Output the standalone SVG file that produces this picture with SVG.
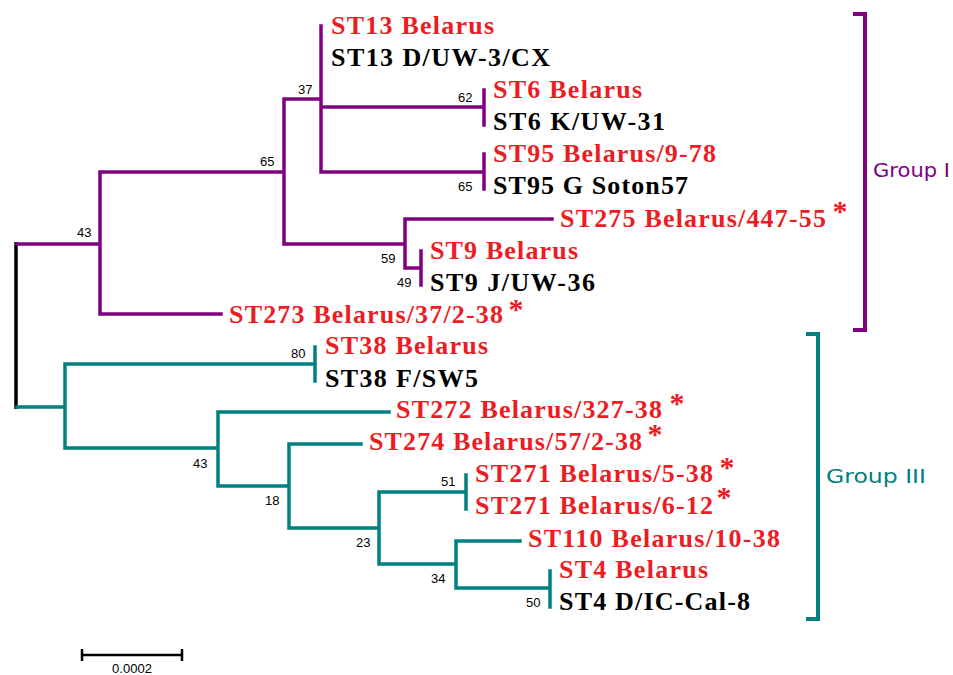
<svg xmlns="http://www.w3.org/2000/svg" width="953" height="675" viewBox="0 0 953 675">
<style>
.p{fill:none;stroke:#800080;stroke-width:3.5;stroke-linecap:square}
.t{fill:none;stroke:#008080;stroke-width:3.5;stroke-linecap:square}
.k{fill:none;stroke:#000;stroke-width:3.5}
.r{fill:#ED1C24}
.b{fill:#000}
</style>
<rect width="953" height="675" fill="#fff"/>
<g id="connectors">
<path class="k" d="M16 242V409"/>
<path class="p" d="M17 244H100M100 172V314M100 172H284M100 314H221M284 99V244M284 99H321M284 244H405M321 26V172M321 107H484M321 172H484M484 90V125M484 154V189M405 219V268M405 219H552M405 268H421M421 251V285"/>
<path class="t" d="M17 407H65M65 364V448M65 364H315M315 347V381M65 448H218M218 412V486M218 412H389M218 486H289M289 444V528M289 444H361M289 528H379M379 492V564M379 492H466M466 475V509M379 564H456M456 541V588M456 541H520M456 588H550M550 571V607"/>
</g>
<g id="bootstrap" font-family="Liberation Sans, Arial, sans-serif" font-size="13" fill="#000">
<text x="77" y="237">43</text>
<text x="260" y="166">65</text>
<text x="298" y="94">37</text>
<text x="458" y="102">62</text>
<text x="458" y="191">65</text>
<text x="381" y="263">59</text>
<text x="397" y="287">49</text>
<text x="291" y="358">80</text>
<text x="193" y="468">43</text>
<text x="265" y="505">18</text>
<text x="441" y="486">51</text>
<text x="356" y="547">23</text>
<text x="431" y="583">34</text>
<text x="526" y="607">50</text>
</g>
<g id="n-st13-belarus"><text class="r" font-family="Liberation Serif" font-weight="bold" font-size="26" x="331" y="34" textLength="163" lengthAdjust="spacing">ST13 Belarus</text></g>
<g id="n-st13-dcx"><text class="b" font-family="Liberation Serif" font-weight="bold" font-size="26" x="331" y="66" textLength="219" lengthAdjust="spacing">ST13 D/UW-3/CX</text></g>
<g id="n-st6-belarus"><text class="r" font-family="Liberation Serif" font-weight="bold" font-size="26" x="493" y="98" textLength="149" lengthAdjust="spacing">ST6 Belarus</text></g>
<g id="n-st6-k"><text class="b" font-family="Liberation Serif" font-weight="bold" font-size="26" x="493" y="130" textLength="172" lengthAdjust="spacing">ST6 K/UW-31</text></g>
<g id="n-st95-belarus"><text class="r" font-family="Liberation Serif" font-weight="bold" font-size="26" x="493" y="162" textLength="223" lengthAdjust="spacing">ST95 Belarus/9-78</text></g>
<g id="n-st95-g"><text class="b" font-family="Liberation Serif" font-weight="bold" font-size="26" x="493" y="194" textLength="195" lengthAdjust="spacing">ST95 G Soton57</text></g>
<g id="n-st275"><text class="r" font-family="Liberation Serif" font-weight="bold" font-size="26" x="560" y="227" textLength="266" lengthAdjust="spacing">ST275 Belarus/447-55</text><text class="r" font-family="Liberation Serif" font-weight="bold" font-size="30" x="832.5" y="221">*</text></g>
<g id="n-st9-belarus"><text class="r" font-family="Liberation Serif" font-weight="bold" font-size="26" x="430" y="259" textLength="148" lengthAdjust="spacing">ST9 Belarus</text></g>
<g id="n-st9-j"><text class="b" font-family="Liberation Serif" font-weight="bold" font-size="26" x="430" y="291" textLength="165" lengthAdjust="spacing">ST9 J/UW-36</text></g>
<g id="n-st273"><text class="r" font-family="Liberation Serif" font-weight="bold" font-size="26" x="229" y="323" textLength="274" lengthAdjust="spacing">ST273 Belarus/37/2-38</text><text class="r" font-family="Liberation Serif" font-weight="bold" font-size="30" x="508.5" y="319">*</text></g>
<g id="n-st38-belarus"><text class="r" font-family="Liberation Serif" font-weight="bold" font-size="26" x="325" y="354" textLength="163" lengthAdjust="spacing">ST38 Belarus</text></g>
<g id="n-st38-f"><text class="b" font-family="Liberation Serif" font-weight="bold" font-size="26" x="325" y="387" textLength="153" lengthAdjust="spacing">ST38 F/SW5</text></g>
<g id="n-st272"><text class="r" font-family="Liberation Serif" font-weight="bold" font-size="26" x="396" y="418" textLength="266" lengthAdjust="spacing">ST272 Belarus/327-38</text><text class="r" font-family="Liberation Serif" font-weight="bold" font-size="30" x="669.5" y="413">*</text></g>
<g id="n-st274"><text class="r" font-family="Liberation Serif" font-weight="bold" font-size="26" x="369" y="450" textLength="273" lengthAdjust="spacing">ST274 Belarus/57/2-38</text><text class="r" font-family="Liberation Serif" font-weight="bold" font-size="30" x="647.5" y="444">*</text></g>
<g id="n-st271a"><text class="r" font-family="Liberation Serif" font-weight="bold" font-size="26" x="475" y="482" textLength="238" lengthAdjust="spacing">ST271 Belarus/5-38</text><text class="r" font-family="Liberation Serif" font-weight="bold" font-size="30" x="719.5" y="477">*</text></g>
<g id="n-st271b"><text class="r" font-family="Liberation Serif" font-weight="bold" font-size="26" x="475" y="514" textLength="238" lengthAdjust="spacing">ST271 Belarus/6-12</text><text class="r" font-family="Liberation Serif" font-weight="bold" font-size="30" x="716.5" y="507">*</text></g>
<g id="n-st110"><text class="r" font-family="Liberation Serif" font-weight="bold" font-size="26" x="528" y="547" textLength="252" lengthAdjust="spacing">ST110 Belarus/10-38</text></g>
<g id="n-st4-belarus"><text class="r" font-family="Liberation Serif" font-weight="bold" font-size="26" x="559" y="578" textLength="149" lengthAdjust="spacing">ST4 Belarus</text></g>
<g id="n-st4-d"><text class="b" font-family="Liberation Serif" font-weight="bold" font-size="26" x="559" y="610" textLength="191" lengthAdjust="spacing">ST4 D/IC-Cal-8</text></g>
<g id="group-1">
<path class="p" d="M853 14H865V330H853" style="stroke-width:4;stroke-linecap:butt"/>
<text font-family="DejaVu Sans, Verdana, sans-serif" font-size="19" x="873" y="177" fill="#800080" textLength="77" lengthAdjust="spacingAndGlyphs">Group I</text>
</g>
<g id="group-3">
<path class="t" d="M806 334H818V619H806" style="stroke-width:4;stroke-linecap:butt"/>
<text font-family="DejaVu Sans, Verdana, sans-serif" font-size="19" x="826" y="483" fill="#008080" textLength="100" lengthAdjust="spacingAndGlyphs">Group III</text>
</g>
<g id="scale-bar">
<path d="M82 655H182M82 649V661M182 649V661" fill="none" stroke="#000" stroke-width="2.5"/>
<text x="132" y="673" text-anchor="middle" font-family="Liberation Sans, Arial, sans-serif" font-size="13" fill="#000">0.0002</text>
</g>
</svg>
